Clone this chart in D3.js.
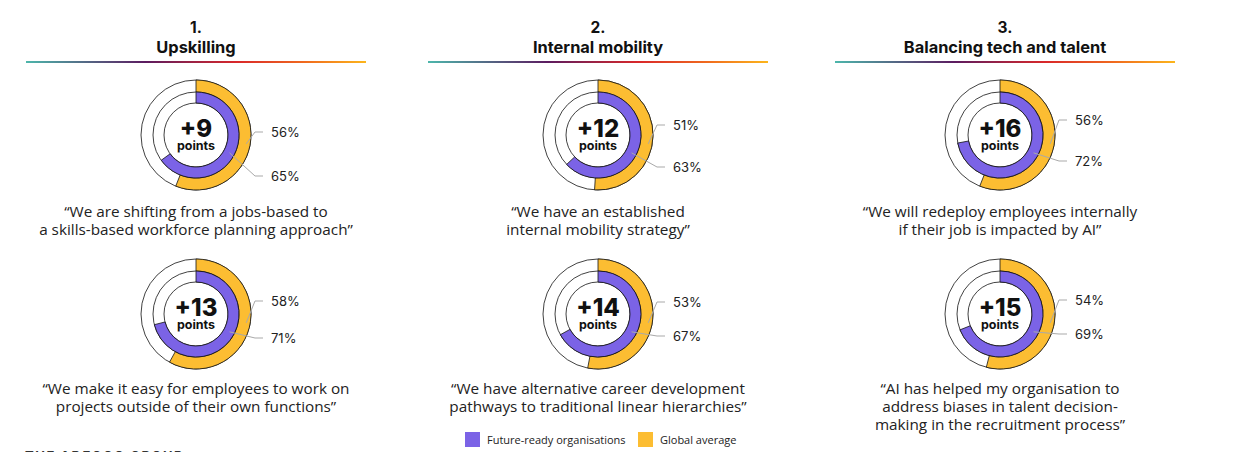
<!doctype html>
<html lang="en">
<head>
<meta charset="utf-8">
<title>Future-ready organisations vs global average</title>
<style>
  body { margin: 0; background: #fff; }
  svg { display: block; font-family: "Open Sans", sans-serif; }
  .head { font-family: Inter, sans-serif; font-weight: 700; fill: #111; }
  .quote { font-size: 15.3px; fill: #222; }
  .pct { font-size: 13px; fill: #222; font-family: Inter, sans-serif; }
  .big { font-family: Inter, sans-serif; font-weight: 800; fill: #111; }
</style>
</head>
<body>
<svg width="1238" height="452"></svg>
<script src="https://d3js.org/d3.v7.min.js"></script>
<script>

var pillarNums = ["1.", "2.", "3."];
var pillarTitles = ["Upskilling", "Internal mobility", "Balancing tech and talent"];

// one entry per donut: column index, row index
var donutCol = [0, 0, 1, 1, 2, 2];
var donutRow = [0, 1, 0, 1, 0, 1];
var futureReady = [65, 71, 63, 67, 72, 69];
var globalAvg = [56, 58, 51, 53, 56, 54];
var statements = [
  ["\u201cWe are shifting from a jobs-based to", "a skills-based workforce planning approach\u201d"],
  ["\u201cWe make it easy for employees to work on", "projects outside of their own functions\u201d"],
  ["\u201cWe have an established", "internal mobility strategy\u201d"],
  ["\u201cWe have alternative career development", "pathways to traditional linear hierarchies\u201d"],
  ["\u201cWe will redeploy employees internally", "if their job is impacted by AI\u201d"],
  ["\u201cAI has helped my organisation to", "address biases in talent decision-", "making in the recruitment process\u201d"]
];
var legendLabels = ["Future-ready organisations", "Global average"];

var purple = "#7b63e6", yellow = "#fcbd32";

// label offsets (yellow, purple) from donut centre
var labelDy = [[-3, 41], [-13, 24], [-10, 32], [-12, 22], [-15, 26], [-14, 20]];

var svg = d3.select("svg");

var x = d3.scalePoint().domain(d3.range(3)).range([196, 1000]);
var y = d3.scalePoint().domain([0, 1]).range([135, 314]);
var pct = d3.scaleLinear().domain([0, 100]).range([0, 2 * Math.PI]);

var defs = svg.append("defs");
var grad = defs.append("linearGradient").attr("id", "rule");
[["0%", "#4db6ab"], ["35%", "#5b1c60"], ["62%", "#d9282a"], ["82%", "#f06a1e"], ["100%", "#fcb51c"]]
  .forEach(function(s) { grad.append("stop").attr("offset", s[0]).attr("stop-color", s[1]); });

// headers
pillarNums.forEach(function(n, i) {
  var cx = x(i) + (i == 2 ? 5 : 0);
  svg.append("text").attr("class", "head").attr("x", cx).attr("y", 33)
    .attr("text-anchor", "middle").style("font-size", "15.5px").text(n);
  svg.append("text").attr("class", "head").attr("x", cx).attr("y", 53)
    .attr("text-anchor", "middle").style("font-size", "16.4px").text(pillarTitles[i]);
  svg.append("rect").attr("x", cx - 170).attr("y", 61).attr("width", 340).attr("height", 2)
    .attr("fill", "url(#rule)");
});

var R = [55, 43, 32];
var outerArc = d3.arc().innerRadius(R[1]).outerRadius(R[0]).startAngle(0);
var innerArc = d3.arc().innerRadius(R[2]).outerRadius(R[1]).startAngle(0);

futureReady.forEach(function(f, i) {
  var g0 = globalAvg[i];
  var cx = x(donutCol[i]), cy = y(donutRow[i]);
  var g = svg.append("g").attr("transform", "translate(" + cx + "," + cy + ")");

  // tracks
  R.forEach(function(r) {
    g.append("circle").attr("r", r).attr("fill", "none").attr("stroke", "#111").attr("stroke-width", 0.8);
  });
  g.append("path").attr("d", outerArc({ endAngle: pct(g0) }))
    .attr("fill", yellow).attr("stroke", "#111").attr("stroke-width", 0.8);
  g.append("path").attr("d", innerArc({ endAngle: pct(f) }))
    .attr("fill", purple).attr("stroke", "#111").attr("stroke-width", 0.8);

  g.append("text").attr("class", "big").attr("y", 1.5).attr("text-anchor", "middle")
    .style("font-size", "24px").text("+" + (f - g0));
  g.append("text").attr("class", "big").attr("y", 15).attr("text-anchor", "middle")
    .style("font-size", "12.5px").style("font-weight", 700).text("points");

  // leader lines + labels
  var items = [
    { v: g0, r: 51, a: 100, dy: labelDy[i][0] },
    { v: f, r: 38, a: 118, dy: labelDy[i][1] }
  ];
  items.forEach(function(d) {
    var rad = d.a * Math.PI / 180;
    var sx = d.r * Math.sin(rad), sy = -d.r * Math.cos(rad);
    g.append("polyline")
      .attr("points", [[sx, sy], [59, d.dy], [67, d.dy]].join(" "))
      .attr("fill", "none").attr("stroke", "#a9a9a9").attr("stroke-width", 1);
    g.append("text").attr("class", "pct").attr("x", 75).attr("y", d.dy).attr("dy", "0.36em")
      .text(d.v + "%");
  });

  var t = svg.append("text").attr("class", "quote").attr("text-anchor", "middle");
  statements[i].forEach(function(line, k) {
    t.append("tspan").attr("x", cx).attr("y", cy + 82 - (donutRow[i] ? 2 : 0) + k * 17.8).text(line);
  });
});

// legend
var lg = svg.append("g").attr("transform", "translate(465,432)");
[purple, yellow].forEach(function(c, i) {
  var ox = i * 173;
  lg.append("rect").attr("x", ox).attr("width", 15).attr("height", 15).attr("fill", c);
  lg.append("text").attr("x", ox + 22).attr("y", 8).attr("dy", "0.36em")
    .style("font-size", "11px").attr("fill", "#222").text(legendLabels[i]);
});

// brand, cut by the page edge
svg.append("text").attr("x", 25).attr("y", 461)
  .style("font-family", "Inter, sans-serif").style("font-weight", 700).style("font-size", "13px")
  .style("letter-spacing", "1.5px").attr("fill", "#333").text("THE ADECCO GROUP");

</script>
</body>
</html>
